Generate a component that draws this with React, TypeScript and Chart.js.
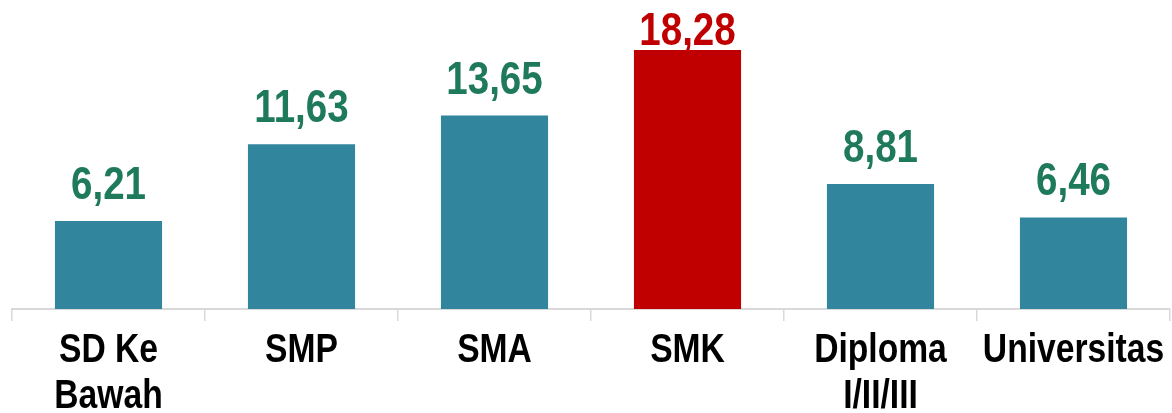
import React, { useEffect, useRef } from "react";
import { Chart, registerables } from "chart.js";

Chart.register(...registerables);

const categories: string[][] = [
  ["SD Ke", "Bawah"],
  ["SMP"],
  ["SMA"],
  ["SMK"],
  ["Diploma", "I/II/III"],
  ["Universitas"],
];
const values = [6.21, 11.63, 13.65, 18.28, 8.81, 6.46];
const valueLabels = ["6,21", "11,63", "13,65", "18,28", "8,81", "6,46"];
const highlightIndex = 3;

const TEAL = "#31859C";
const RED = "#C00000";
const GREEN = "#1F7A5C";
const FONT = "'Liberation Sans', Arial, sans-serif";
const NARROW = 0.82;

function drawNarrow(ctx: CanvasRenderingContext2D, text: string, x: number, y: number) {
  ctx.save();
  ctx.translate(x, y);
  ctx.scale(NARROW, 1);
  ctx.fillText(text, 0, 0);
  ctx.restore();
}

const labelPlugin = {
  id: "narrowLabels",
  afterDraw(chart: any) {
    const ctx = chart.ctx as CanvasRenderingContext2D;
    const meta = chart.getDatasetMeta(0);
    const xScale = chart.scales.x;
    const bottom = chart.chartArea.bottom;
    ctx.save();
    ctx.textAlign = "center";
    ctx.textBaseline = "alphabetic";
    ctx.font = `bold 47px ${FONT}`;
    meta.data.forEach((bar: any, i: number) => {
      const y = Math.max(bar.y - 22, 45);
      ctx.fillStyle = i === highlightIndex ? RED : GREEN;
      drawNarrow(ctx, valueLabels[i], bar.x, y);
    });
    ctx.font = `bold 41px ${FONT}`;
    ctx.fillStyle = "#000000";
    categories.forEach((lines, i) => {
      const x = xScale.getPixelForTick(i);
      lines.forEach((line, j) => {
        drawNarrow(ctx, line, x, bottom + 53 + j * 46);
      });
    });
    ctx.restore();
  },
};

export default function App() {
  const ref = useRef<HTMLCanvasElement | null>(null);
  useEffect(() => {
    document.body.style.margin = "0";
    const chart = new Chart(ref.current!, {
      type: "bar",
      data: {
        labels: categories.map((c) => c.join(" ")),
        datasets: [
          {
            data: values,
            backgroundColor: values.map((_, i) => (i === highlightIndex ? RED : TEAL)),
            borderWidth: 0,
            barPercentage: 0.555,
            categoryPercentage: 1,
          },
        ],
      },
      options: {
        responsive: false,
        animation: false,
        layout: { padding: { left: 12, right: 2, top: 0, bottom: 92 } },
        plugins: {
          legend: { display: false },
          tooltip: { enabled: false },
        },
        scales: {
          y: {
            display: false,
            min: 0,
            max: 21.8,
          },
          x: {
            offset: true,
            border: { display: true, color: "#D9D9D9", width: 2 },
            grid: {
              offset: true,
              drawOnChartArea: false,
              drawTicks: true,
              tickLength: 12,
              color: "#D9D9D9",
              lineWidth: 1.5,
            },
            ticks: {
              display: false,
            },
          },
        },
      },
      plugins: [labelPlugin],
    });
    return () => chart.destroy();
  }, []);
  return (
    <div style={{ width: 1172, height: 413, overflow: "hidden" }}>
      <canvas ref={ref} width={1172} height={413} style={{ display: "block" }} />
    </div>
  );
}
